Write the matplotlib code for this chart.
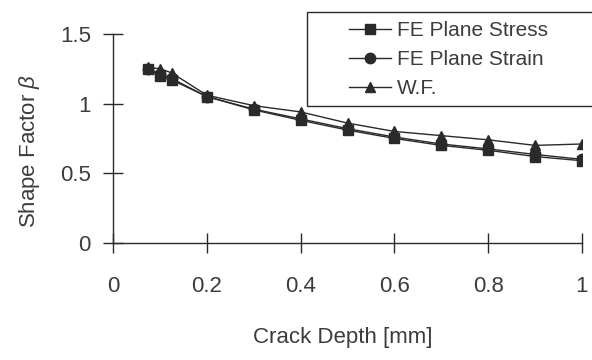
import matplotlib
matplotlib.use("Agg")
import matplotlib.pyplot as plt
from matplotlib.patches import Rectangle

plt.rcParams['font.family'] = ['Liberation Sans', 'DejaVu Sans']
plt.rcParams['mathtext.fontset'] = 'custom'
plt.rcParams['mathtext.it'] = 'Liberation Sans:italic'

depth = [0.075, 0.1, 0.125, 0.2, 0.3, 0.4, 0.5, 0.6, 0.7, 0.8, 0.9, 1.0]
fe_stress = [1.245, 1.20, 1.17, 1.05, 0.955, 0.88, 0.81, 0.75, 0.70, 0.665, 0.62, 0.59]
fe_strain = [1.25, 1.21, 1.18, 1.05, 0.96, 0.89, 0.82, 0.76, 0.71, 0.675, 0.635, 0.60]
wf = [1.26, 1.25, 1.22, 1.06, 0.985, 0.94, 0.86, 0.80, 0.77, 0.74, 0.70, 0.71]

xticks = [0, 0.2, 0.4, 0.6, 0.8, 1]
xticklabels = ['0', '0.2', '0.4', '0.6', '0.8', '1']
yticks = [0, 0.5, 1, 1.5]
yticklabels = ['0', '0.5', '1', '1.5']

col = '#2a2a2a'
tcol = '#3c3c3c'
W, H = 592, 360
fig = plt.figure(figsize=(5.92, 3.6), dpi=100)
ax = fig.add_axes([0.191, 0.325, 0.792, 0.581])
ax.plot(depth, fe_stress, '-s', color=col, lw=1.0, ms=7.5, label='FE Plane Stress')
ax.plot(depth, fe_strain, '-o', color=col, lw=1.0, ms=7.5, label='FE Plane Strain')
ax.plot(depth, wf, '-^', color=col, lw=1.0, ms=7.5, label='W.F.')
ax.set_xlim(0, 1)
ax.set_ylim(0, 1.5)
ax.set_xticks(xticks)
ax.set_xticklabels(xticklabels)
ax.set_yticks(yticks)
ax.set_yticklabels(yticklabels)
for s in ['top', 'right']:
    ax.spines[s].set_visible(False)
for s in ['left', 'bottom']:
    ax.spines[s].set_color(col)
    ax.spines[s].set_linewidth(1.0)
ax.tick_params(direction='inout', length=14, width=1.0, colors=col,
               labelcolor=tcol, labelsize=16)
ax.tick_params(axis='x', pad=17)
ax.tick_params(axis='y', pad=9)
ax.set_xlabel('Crack Depth [mm]', fontsize=16, color=tcol)
ax.set_ylabel(r'Shape Factor $\beta$', fontsize=16, color=tcol)
ax.xaxis.set_label_coords(0.49, -0.40)
ax.yaxis.set_label_coords(-0.151, 0.44)

# legend frame (extends past the right edge)
fig.patches.append(Rectangle((307 / W, 1 - 106 / H), 0.6, 94 / H,
                             transform=fig.transFigure, fill=False,
                             edgecolor=col, linewidth=1.0))
leg = fig.legend(loc='upper left', bbox_to_anchor=(349 / W, 1 - 21 / H),
                 fontsize=15, frameon=False, handlelength=2.0, handletextpad=0.3,
                 borderpad=0.0, labelspacing=0.48, borderaxespad=0)
for t in leg.get_texts():
    t.set_color(tcol)
fig.savefig('out.png', dpi=100)
